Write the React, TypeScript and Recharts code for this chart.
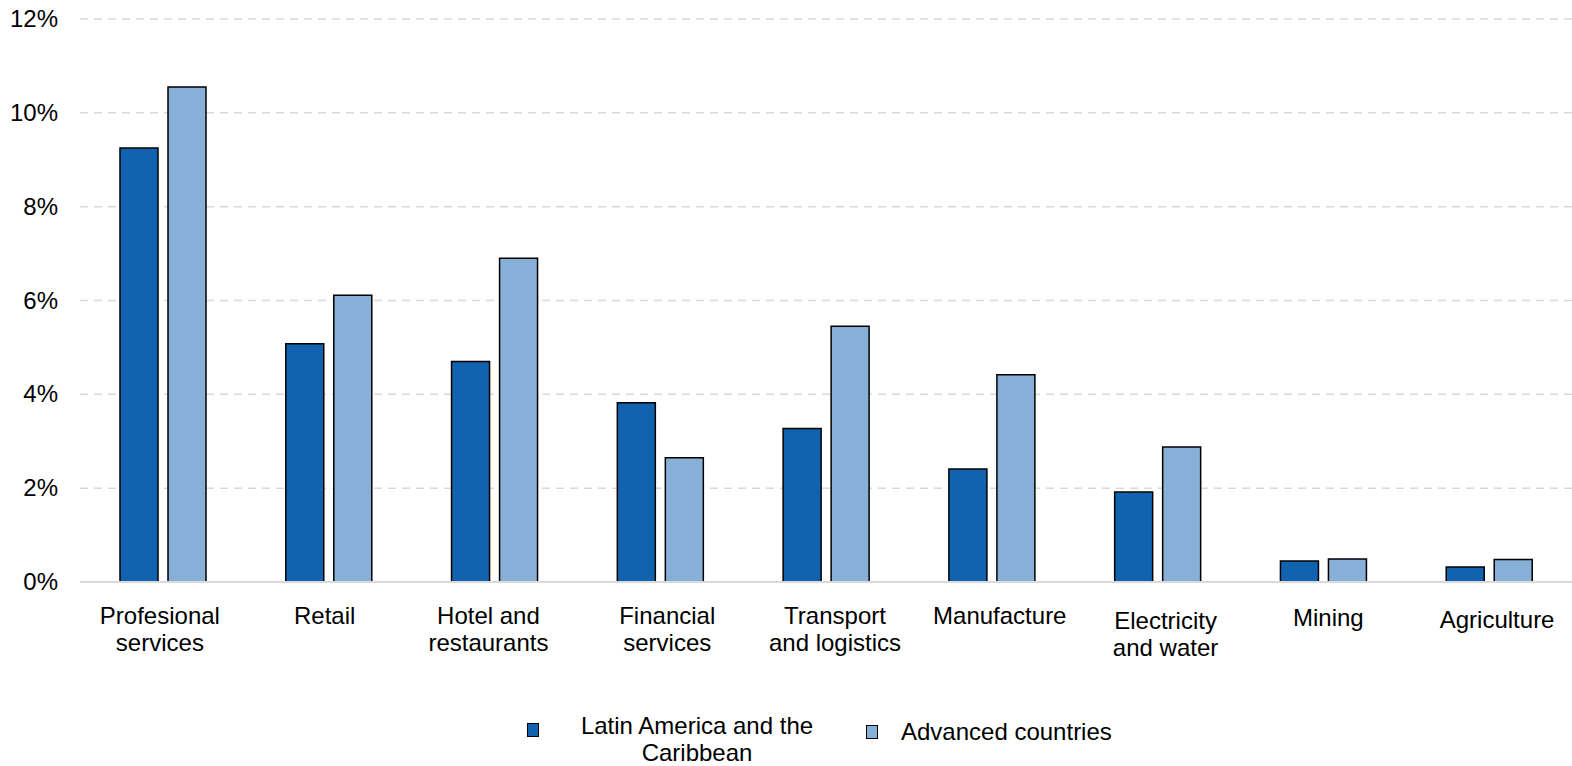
import React from "react";
import { BarChart, Bar, XAxis, YAxis, CartesianGrid, Legend } from "recharts";

const categories = [
  "Profesional services",
  "Retail",
  "Hotel and restaurants",
  "Financial services",
  "Transport and logistics",
  "Manufacture",
  "Electricity and water",
  "Mining",
  "Agriculture",
];
const categoryLines: string[][] = [
  ["Profesional", "services"],
  ["Retail"],
  ["Hotel and", "restaurants"],
  ["Financial", "services"],
  ["Transport", "and logistics"],
  ["Manufacture"],
  ["Electricity", "and water"],
  ["Mining"],
  ["Agriculture"],
];
const latamValues = [9.25, 5.08, 4.7, 3.82, 3.27, 2.41, 1.92, 0.45, 0.32];
const advancedValues = [10.55, 6.11, 6.9, 2.65, 5.45, 4.42, 2.88, 0.49, 0.48];
const yTicks = [0, 2, 4, 6, 8, 10, 12];

// small label nudges (layout only), mimicking the source's label placement
const labelDx = [-3, -4, -6, 7, 9, 8, 8, 5, 8];
const labelDy = [0, 0, 0, 0, 0, 0, 5, 2, 4];

const data = categories.map((c, i) => ({
  name: c,
  latam: latamValues[i],
  advanced: advancedValues[i],
}));

const FONT = "'Liberation Sans', Arial, sans-serif";
const LATAM = "#1163b0";
const ADV = "#87afd7";

const XTick = (props: any) => {
  const { x, y, index } = props;
  const lines = categoryLines[index] || [];
  return (
    <g>
      {lines.map((l, i) => (
        <text
          key={i}
          x={x + (labelDx[index] || 0)}
          y={y + 42 + (labelDy[index] || 0) + i * 27}
          textAnchor="middle"
          fontFamily={FONT}
          fontSize={24}
          fill="#000"
        >
          {l}
        </text>
      ))}
    </g>
  );
};

const YTick = (props: any) => {
  const { x, y, payload } = props;
  return (
    <text
      x={x}
      y={y + 8}
      textAnchor="end"
      fontFamily={FONT}
      fontSize={24}
      fill="#000"
    >
      {`${payload.value}%`}
    </text>
  );
};

const LegendContent = () => (
  <div
    style={{
      position: "relative",
      width: 1572,
      height: 60,
      fontFamily: FONT,
      fontSize: 24,
      color: "#000",
    }}
  >
    <div
      style={{
        position: "absolute",
        left: 527,
        top: 17,
        width: 10,
        height: 12,
        background: LATAM,
        border: "1px solid #000",
      }}
    />
    <div
      style={{
        position: "absolute",
        left: 567,
        top: 6,
        width: 260,
        textAlign: "center",
        lineHeight: "27px",
      }}
    >
      Latin America and the
      <br />
      Caribbean
    </div>
    <div
      style={{
        position: "absolute",
        left: 866,
        top: 19,
        width: 10,
        height: 12,
        background: ADV,
        border: "1px solid #000",
      }}
    />
    <div
      style={{
        position: "absolute",
        left: 901,
        top: 11,
        lineHeight: "29px",
        whiteSpace: "nowrap",
      }}
    >
      Advanced countries
    </div>
  </div>
);

export default function App() {
  return (
    <div style={{ width: 1572, height: 766, overflow: "hidden" }}>
      <style>{`body{margin:0;overflow:hidden}`}</style>
      <BarChart
        width={1572}
        height={766}
        data={data}
        margin={{ top: 19, right: 0, bottom: 0, left: 0 }}
        barGap={10}
        barCategoryGap={40}
      >
        <CartesianGrid
          vertical={false}
          stroke="#d9d9d9"
          strokeWidth={1.5}
          strokeDasharray="8 6"
        />
        <XAxis
          dataKey="name"
          height={124}
          interval={0}
          tickLine={false}
          axisLine={{ stroke: "#d9d9d9", strokeWidth: 2 }}
          tick={<XTick />}
          tickSize={0}
          tickMargin={0}
        />
        <YAxis
          width={80}
          domain={[0, 12]}
          ticks={yTicks}
          axisLine={false}
          tickLine={false}
          tickSize={0}
          tickMargin={22}
          tick={<YTick />}
          interval={0}
        />
        <Legend
          verticalAlign="bottom"
          content={<LegendContent />}
          wrapperStyle={{ left: 0, width: 1572, height: 60, bottom: 0 }}
        />
        <Bar
          dataKey="latam"
          name="Latin America and the Caribbean"
          fill={LATAM}
          stroke="#000"
          strokeWidth={1.5}
          isAnimationActive={false}
        />
        <Bar
          dataKey="advanced"
          name="Advanced countries"
          fill={ADV}
          stroke="#000"
          strokeWidth={1.5}
          isAnimationActive={false}
        />
      </BarChart>
    </div>
  );
}
